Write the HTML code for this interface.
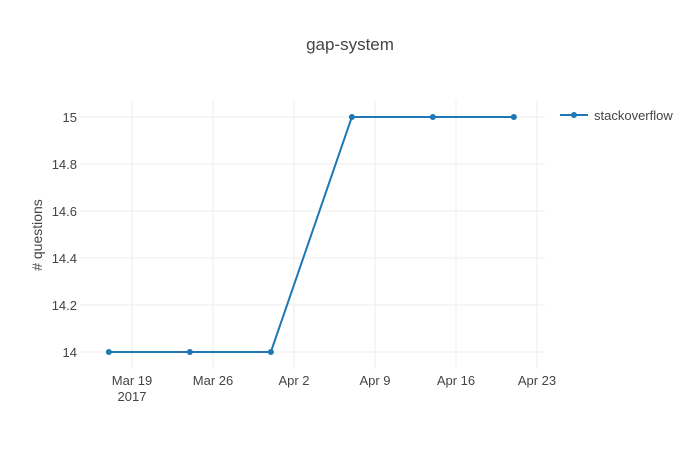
<!DOCTYPE html>
<html><head><meta charset="utf-8"><style>
body{margin:0;background:#fff}
svg text{font-family:"Liberation Sans","DejaVu Sans",sans-serif;fill:#444}
</style></head><body>
<svg width="700" height="450" xmlns="http://www.w3.org/2000/svg">
<text x="350" y="50" text-anchor="middle" font-size="17">gap-system</text>
<g id="grid"></g>
<g id="axes"></g>
<text transform="translate(42,235) rotate(-90)" text-anchor="middle" font-size="14"># questions</text>
<g id="series"></g>
<g>
<line x1="560" y1="115" x2="588" y2="115" stroke="#1f77b4" stroke-width="2"/>
<circle cx="574" cy="115" r="3" fill="#1f77b4"/>
<text x="594" y="120" font-size="13">stackoverflow</text>
</g>
</svg>
<script>
const dates = ["2017-03-17","2017-03-24","2017-03-31","2017-04-07","2017-04-14","2017-04-21"];
const counts = [14,14,14,15,15,15];
const yTicks = [14,14.2,14.4,14.6,14.8,15];
const yTickLabels = ["14","14.2","14.4","14.6","14.8","15"];
const xTicks = ["2017-03-19","2017-03-26","2017-04-02","2017-04-09","2017-04-16","2017-04-23"];
const xTickLabels = ["Mar 19","Mar 26","Apr 2","Apr 9","Apr 16","Apr 23"];
const NS="http://www.w3.org/2000/svg";
const d0=Date.parse("2017-03-19");
function X(d){return 132+(Date.parse(d)-d0)/86400000*(81/7);}
function Y(v){return 352-(v-14)*235;}
function mk(t,a,p){const e=document.createElementNS(NS,t);for(const k in a)e.setAttribute(k,a[k]);p.appendChild(e);return e;}
const g=document.getElementById('grid'),ax=document.getElementById('axes'),s=document.getElementById('series');
yTicks.forEach((v,i)=>{
 const l=mk('line',{x1:80,x2:545,y1:Y(v),y2:Y(v),stroke:'#eee','stroke-width':1},g);
 
 
 const t=mk('text',{x:77,y:Y(v)+5,'text-anchor':'end','font-size':13},ax);t.textContent=yTickLabels[i];
 
 
});
xTicks.forEach((d,i)=>{
 const l=mk('line',{x1:X(d),x2:X(d),y1:100,y2:369,stroke:'#eee','stroke-width':1},g);
 
 
 const t=mk('text',{x:X(d),y:385,'text-anchor':'middle','font-size':13},ax);t.textContent=xTickLabels[i];
 
 
});
const yr=mk('text',{x:X(xTicks[0]),y:401,'text-anchor':'middle','font-size':13},ax);yr.textContent="2017";


const pl=mk('polyline',{points:dates.map((d,i)=>X(d)+','+Y(counts[i])).join(' '),fill:'none',stroke:'#1f77b4','stroke-width':2},s);


dates.forEach((d,i)=>{const c=mk('circle',{cx:X(d),cy:Y(counts[i]),r:3,fill:'#1f77b4'},s);
 
 });
</script>
</body></html>
